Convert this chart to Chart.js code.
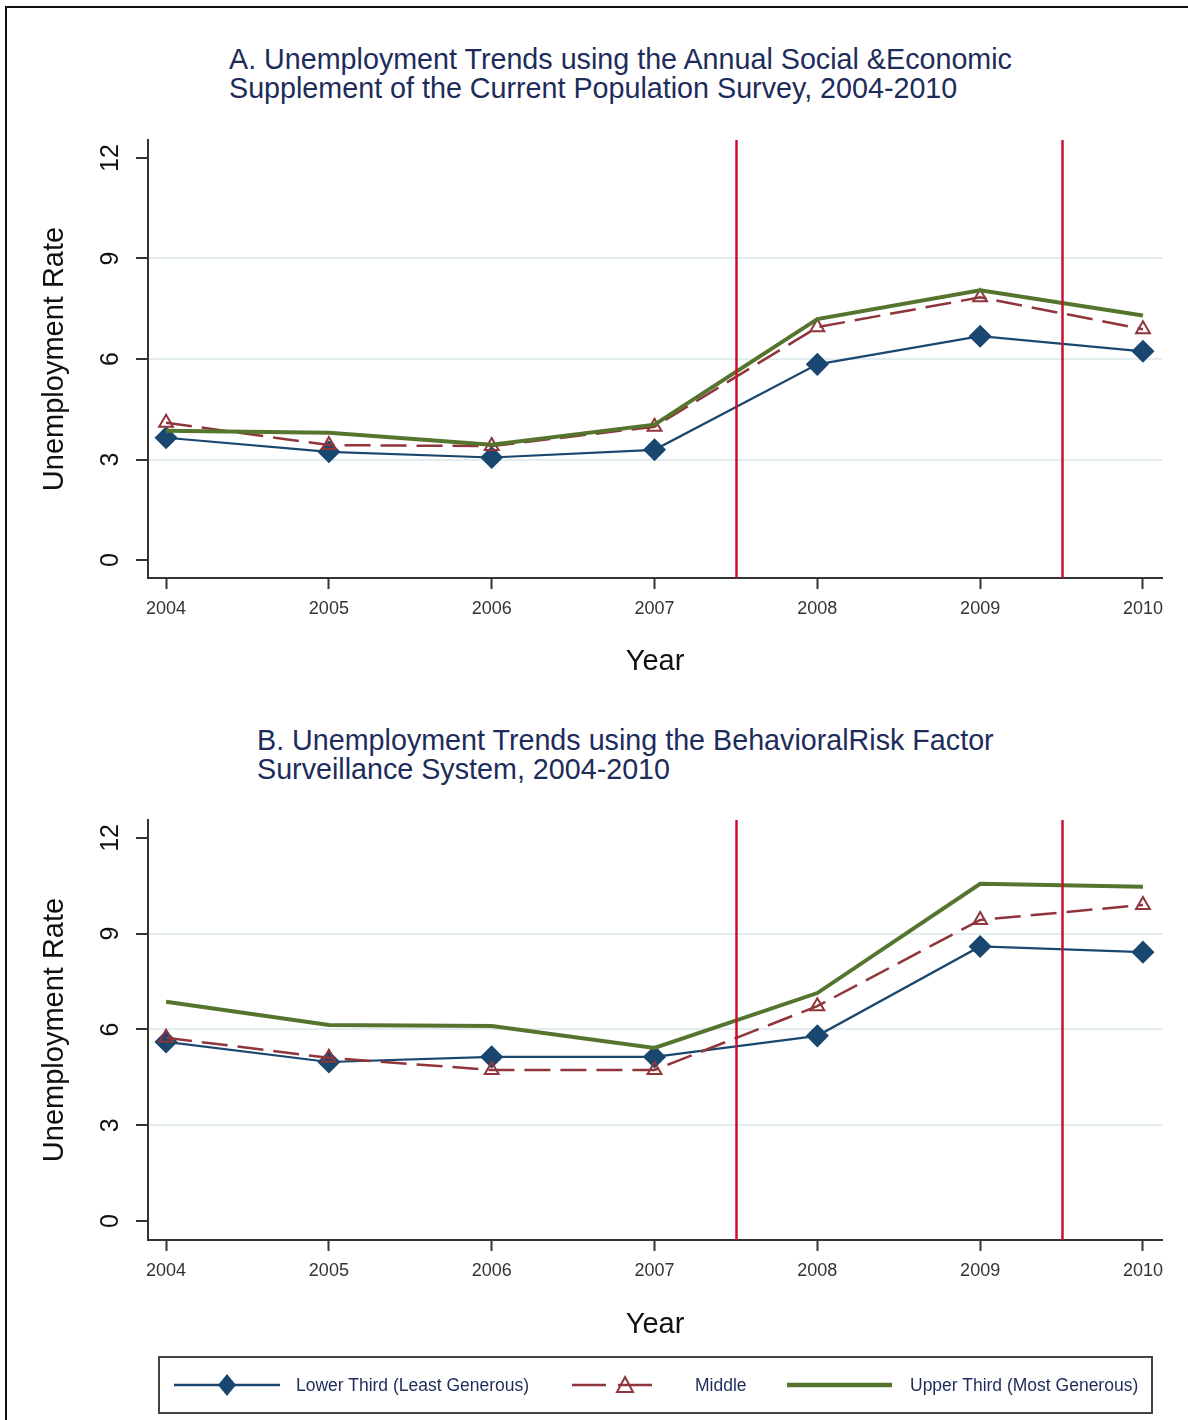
<!DOCTYPE html>
<html>
<head>
<meta charset="utf-8">
<script src="https://cdn.jsdelivr.net/npm/chart.js@4.4.1/dist/chart.umd.min.js"></script>
<style>
  body { margin: 0; background: #fff; font-family: "Liberation Sans", Arial, sans-serif; }
  #page { position: relative; width: 1188px; height: 1420px; overflow: hidden; }
  #frame { position: absolute; left: 5px; top: 6px; width: 1200px; height: 1440px; border: 2px solid #111; }
  .ttl { position: absolute; font-size: 28.7px; line-height: 29px; color: #1d2c5a; white-space: nowrap; }
  canvas { position: absolute; left: 0; }
  #legend { position: absolute; left: 158px; top: 1356px; width: 991px; height: 54px; border: 2px solid #444; }
  .lg { position: absolute; top: 0; height: 54px; display: flex; align-items: center; white-space: nowrap; }
  .lg span { font-family: "Liberation Sans", Arial, sans-serif; font-size: 17.5px; color: #1d2c5a; }
</style>
</head>
<body>
<div id="page">
  <div id="frame"></div>
  <div class="ttl" id="titleA" style="left:229px; top:45px;"></div>
  <div class="ttl" id="titleB" style="left:257px; top:726px;"></div>
  <canvas id="chartA" style="top:0px;"></canvas>
  <canvas id="chartB" style="top:700px;"></canvas>
  <div id="legend"></div>
</div>
<script>
// data
var years = [2004, 2005, 2006, 2007, 2008, 2009, 2010];
var yTicks = [0, 3, 6, 9, 12];
var recessionYears = [2007.5, 2009.5];
var seriesNames = ["Lower Third (Least Generous)", "Middle", "Upper Third (Most Generous)"];

var titleA = ["A. Unemployment Trends using the Annual Social &Economic", "Supplement of the Current Population Survey, 2004-2010"];
var titleB = ["B. Unemployment Trends using the BehavioralRisk Factor", "Surveillance System, 2004-2010"];

// panel A: CPS ASEC
var asecLower  = [3.65, 3.23, 3.06, 3.29, 5.84, 6.68, 6.23];
var asecMiddle = [4.10, 3.43, 3.40, 3.98, 6.95, 7.84, 6.89];
var asecUpper  = [3.86, 3.80, 3.44, 4.04, 7.19, 8.05, 7.30];

// panel B: BRFSS
var brfssLower  = [5.61, 4.98, 5.14, 5.14, 5.80, 8.60, 8.42];
var brfssMiddle = [5.74, 5.11, 4.73, 4.73, 6.73, 9.43, 9.90];
var brfssUpper  = [6.87, 6.14, 6.11, 5.42, 7.14, 10.56, 10.47];

var navy = "#1a476f", maroon = "#90353b", green = "#55752f", cutRed = "#c8102e";
var gridCol = "#e3ecef";

document.getElementById("titleA").innerHTML = titleA.join("<br>");
document.getElementById("titleB").innerHTML = titleB.join("<br>");

function pts(vals) {
    return vals.map(function (v, i) { return {x: years[i], y: v}; });
}

var cutLines = {
    id: "cutLines",
    afterDatasetsDraw: function (chart) {
        var ctx = chart.ctx, area = chart.chartArea, xs = chart.scales.x;
        ctx.save();
        ctx.strokeStyle = cutRed;
        ctx.lineWidth = 2.5;
        recessionYears.forEach(function (yr) {
            var px = Math.round(xs.getPixelForValue(yr)) + 0.5;
            ctx.beginPath();
            ctx.moveTo(px, area.top);
            ctx.lineTo(px, area.bottom);
            ctx.stroke();
        });
        ctx.restore();
    }
};

function makeChart(id, height, lower, middle, upper, yMin, yMax, topPad, xAxisH) {
    var cv = document.getElementById(id);
    cv.width = 1188;
    cv.height = height;
    cv.style.width = "1188px";
    cv.style.height = height + "px";

    return new Chart(cv.getContext("2d"), {
        type: "line",
        data: {
            datasets: [
                {
                    label: seriesNames[2], data: pts(upper), borderColor: green, borderWidth: 4,
                    pointRadius: 0, order: 1
                },
                {
                    label: seriesNames[1], data: pts(middle), borderColor: maroon, borderWidth: 2.5,
                    borderDash: [26, 10], pointStyle: "triangle", pointRadius: 8,
                    pointBorderWidth: 2, pointBackgroundColor: "rgba(255,255,255,0)", pointBorderColor: maroon, order: 2
                },
                {
                    label: seriesNames[0], data: pts(lower), borderColor: navy, borderWidth: 2.2,
                    pointStyle: "rectRot", pointRadius: 10, pointBackgroundColor: navy, pointBorderColor: navy, order: 3
                }
            ]
        },
        options: {
            responsive: false,
            animation: false,
            devicePixelRatio: 1,
            layout: { padding: { left: 0, right: 26, top: topPad, bottom: 0 } },
            plugins: { legend: { display: false }, tooltip: { enabled: false } },
            elements: { line: { tension: 0 } },
            scales: {
                x: {
                    type: "linear", min: 2003.889, max: 2010.117,
                    afterBuildTicks: function (s) { s.ticks = years.map(function (v) { return {value: v}; }); },
                    afterFit: function (s) { s.height = xAxisH; },
                    grid: { drawOnChartArea: false, tickLength: 11, tickColor: "#333", tickWidth: 2 },
                    border: { color: "#333", width: 2 },
                    ticks: { color: "#333", padding: 9, font: { size: 18, family: "Liberation Sans" },
                             callback: function (v) { return String(v); } },
                    title: { display: true, text: "Year", color: "#111", font: { size: 29, family: "Liberation Sans" },
                             padding: { top: 0, bottom: 21 } }
                },
                y: {
                    min: yMin, max: yMax,
                    afterBuildTicks: function (s) { s.ticks = yTicks.map(function (v) { return {value: v}; }); },
                    afterFit: function (s) { s.width = 148; },
                    grid: {
                        color: function (c) { return (c.tick && c.tick.value > 0 && c.tick.value < 12) ? gridCol : "rgba(0,0,0,0)"; },
                        lineWidth: 2, tickLength: 12, tickColor: "#333", tickWidth: 2
                    },
                    border: { color: "#333", width: 2 },
                    ticks: { color: "#111", minRotation: 90, maxRotation: 90, crossAlign: "center", padding: 11,
                             font: { size: 25, family: "Liberation Sans" } },
                    title: { display: true, text: "Unemployment Rate", color: "#111", font: { size: 29, family: "Liberation Sans" },
                             padding: { top: 38, bottom: 0 } }
                }
            }
        },
        plugins: [cutLines]
    });
}

makeChart("chartA", 700, asecLower, asecMiddle, asecUpper, -0.537, 12.537, 140, 122);
makeChart("chartB", 663, brfssLower, brfssMiddle, brfssUpper, -0.595, 12.56, 120, 123);

// legend
var legendLeft = [14, 412, 627];
var sampleW = [106, 90, 105];
var textGap = [16, 33, 18];
var legend = document.getElementById("legend");
function sampleSvg(i) {
    var w = sampleW[i], h = 30, m = h / 2, s = "";
    if (i === 0) {
        s = '<line x1="0" y1="' + m + '" x2="' + w + '" y2="' + m + '" stroke="' + navy + '" stroke-width="2.5"/>' +
            '<polygon points="' + (w/2) + ',' + (m-11) + ' ' + (w/2+9) + ',' + m + ' ' + (w/2) + ',' + (m+11) + ' ' + (w/2-9) + ',' + m + '" fill="' + navy + '"/>';
    } else if (i === 1) {
        s = '<line x1="0" y1="' + m + '" x2="' + w + '" y2="' + m + '" stroke="' + maroon + '" stroke-width="2.5" stroke-dasharray="34,12"/>' +
            '<polygon points="' + (w/2+8) + ',' + (m-8) + ' ' + (w/2+16) + ',' + (m+7) + ' ' + (w/2) + ',' + (m+7) + '" fill="none" stroke="' + maroon + '" stroke-width="2"/>';
    } else {
        s = '<line x1="0" y1="' + m + '" x2="' + w + '" y2="' + m + '" stroke="' + green + '" stroke-width="4.5"/>';
    }
    return '<svg width="' + w + '" height="' + h + '">' + s + '</svg>';
}
seriesNames.forEach(function (name, i) {
    var d = document.createElement("div");
    d.className = "lg";
    d.style.left = legendLeft[i] + "px";
    d.innerHTML = sampleSvg(i) + '<span style="margin-left:' + textGap[i] + 'px">' + name + "</span>";
    legend.appendChild(d);
});
</script>
</body>
</html>
